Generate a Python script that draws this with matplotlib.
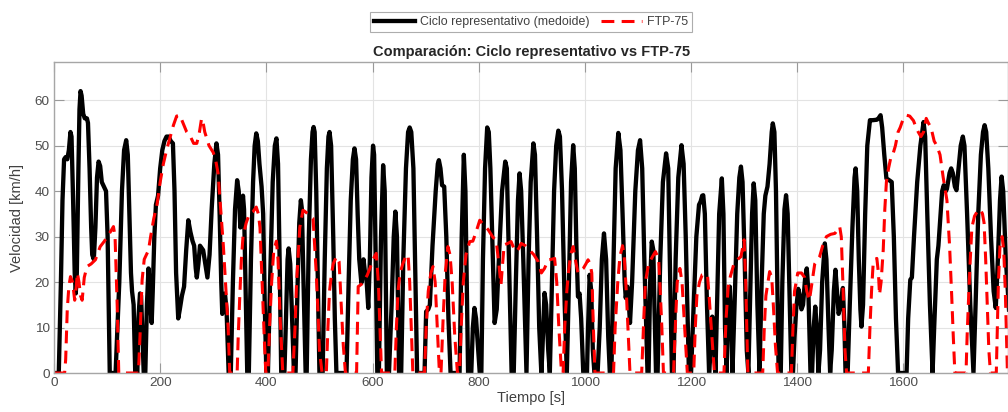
import matplotlib.pyplot as plt
import numpy as np

# ciclo representativo (medoide): tiempo [s], velocidad
med_t = [0, 9, 13, 16, 19, 22, 25, 28, 31, 33, 36, 39, 41, 43, 46, 48, 50, 52, 55, 58, 62, 64, 67, 70, 72, 75,
         78, 81, 84, 87, 90, 94, 98, 101, 105, 116, 123, 128, 132, 136, 139, 142, 145, 147, 150, 153, 157, 159,
         162, 164, 166, 169, 172, 175, 178, 180, 182, 184, 186, 189, 192, 196, 200, 204, 208, 212, 216, 220, 224,
         227, 230, 234, 237, 241, 245, 249, 253, 257, 261, 264, 267, 269, 272, 275, 278, 281, 285, 289, 293, 297,
         302, 306, 309, 312, 315, 317, 320, 322, 325, 329, 333, 337, 341, 345, 348, 351, 354, 356, 358, 364, 367,
         371, 375, 378, 381, 384, 387, 391, 394, 397, 400, 403, 407, 412, 416, 419, 422, 425, 428, 434, 437, 440,
         442, 445, 449, 452, 455, 459, 462, 465, 467, 470, 474, 476, 480, 484, 487, 489, 491, 494, 497, 500, 506,
         510, 514, 517, 519, 522, 526, 529, 532, 551, 555, 559, 563, 566, 569, 572, 575, 579, 583, 586, 589, 592,
         595, 598, 601, 603, 606, 609, 612, 616, 620, 623, 627, 631, 636, 640, 643, 646, 650, 654, 658, 663, 667,
         670, 673, 677, 681, 684, 698, 701, 705, 708, 713, 719, 723, 725, 728, 731, 735, 739, 743, 747, 764, 768,
         772, 775, 778, 780, 786, 789, 792, 795, 799, 802, 805, 808, 812, 816, 819, 822, 826, 830, 834, 838, 844,
         850, 853, 857, 862, 866, 870, 874, 877, 880, 884, 890, 894, 898, 903, 906, 910, 914, 918, 920, 924, 927,
         931, 934, 938, 942, 946, 950, 953, 957, 962, 966, 970, 974, 978, 981, 984, 987, 990, 993, 997, 1004,
         1006, 1009, 1012, 1015, 1018, 1024, 1028, 1032, 1036, 1040, 1044, 1047, 1050, 1054, 1058, 1063, 1067,
         1071, 1075, 1077, 1080, 1083, 1085, 1089, 1095, 1100, 1104, 1108, 1112, 1118, 1120, 1123, 1126, 1129,
         1131, 1134, 1137, 1142, 1147, 1153, 1157, 1160, 1164, 1167, 1171, 1176, 1182, 1186, 1190, 1196, 1200,
         1205, 1210, 1215, 1218, 1221, 1223, 1226, 1230, 1234, 1237, 1240, 1243, 1246, 1249, 1253, 1258, 1261,
         1264, 1267, 1270, 1273, 1276, 1278, 1282, 1287, 1291, 1294, 1297, 1301, 1305, 1308, 1311, 1315, 1318,
         1321, 1325, 1329, 1333, 1337, 1340, 1344, 1348, 1352, 1354, 1357, 1360, 1363, 1365, 1369, 1372, 1376,
         1379, 1382, 1386, 1389, 1392, 1395, 1398, 1402, 1405, 1408, 1411, 1415, 1418, 1421, 1425, 1428, 1431,
         1434, 1437, 1440, 1443, 1447, 1452, 1455, 1459, 1462, 1465, 1469, 1472, 1475, 1478, 1482, 1486, 1489,
         1491, 1495, 1499, 1504, 1508, 1510, 1513, 1516, 1519, 1521, 1524, 1528, 1532, 1537, 1542, 1550, 1553,
         1557, 1560, 1564, 1568, 1572, 1578, 1582, 1586, 1590, 1606, 1609, 1613, 1616, 1620, 1626, 1632, 1638,
         1641, 1645, 1650, 1655, 1658, 1663, 1666, 1670, 1673, 1676, 1680, 1682, 1687, 1690, 1693, 1697, 1700,
         1704, 1708, 1712, 1715, 1720, 1726, 1732, 1736, 1741, 1746, 1750, 1753, 1756, 1760, 1765, 1770, 1774,
         1778, 1782, 1785, 1788, 1793, 1797, 1800]
med_v = [0, 0, 20, 38, 47, 47.5, 47, 49, 53, 52, 38, 22, 17.5, 22, 45, 58, 62, 61, 57, 56, 56, 55, 45, 32, 26,
         25, 32, 43, 46.5, 45.5, 42, 41, 40, 30, 0, 0, 20, 40, 49, 51.2, 48, 35, 22, 18, 15, 0, 0, 12, 17.5, 17,
         10, 0, 0, 15, 23, 20, 14, 11, 18, 30, 37, 39, 45, 49, 51, 52, 52, 51, 50.5, 40, 22, 12, 14, 17, 19, 27,
         33.6, 31, 29, 28, 23, 21, 24, 28, 27.5, 27, 24, 21, 26, 36, 46, 50.5, 48, 35, 20, 13, 15, 17.5, 14, 0, 0,
         20, 36, 42.4, 40, 32, 35, 39, 36, 0, 0, 25, 42, 50, 52.7, 51, 46, 41, 35, 15, 0, 0, 20, 42, 50, 51.6, 46,
         25, 0, 0, 12, 25, 27.4, 24, 10, 0, 0, 20, 33, 38, 36, 20, 0, 0, 30, 47, 53, 54.1, 53, 40, 20, 0, 0, 25,
         45, 52, 53, 50, 30, 12, 0, 0, 20, 38, 47, 49.4, 47, 35, 25, 19.8, 25, 22, 20, 14.3, 25, 43, 50, 48, 25, 0,
         0, 30, 45.7, 40, 0, 0, 15, 30, 35.5, 30, 0, 0, 25, 45, 53, 54, 53, 45, 20, 0, 0, 13.5, 14, 15, 28, 40, 46,
         46.8, 45, 41.3, 41, 30, 12, 0, 0, 30, 48, 40, 15, 0, 0, 10, 14.3, 12, 5, 0, 0, 25, 45, 54, 53, 45, 28, 11,
         14, 25, 40, 46.5, 45, 25, 0, 0, 20, 38, 43.9, 40, 25, 0, 25, 42, 50.5, 48, 30, 10, 0, 5, 17.6, 15, 5, 0,
         20, 40, 50, 53.3, 52, 40, 15, 0, 20, 42, 50.1, 45, 28, 16.8, 17.5, 12, 0, 0, 10, 21.6, 18, 5, 0, 0, 10,
         25, 30.7, 25, 8, 0, 0, 25, 45, 52.8, 49, 35, 20, 16.5, 19, 15, 11, 20, 40, 49, 51.2, 45, 25, 0, 0, 20,
         28.9, 27, 15, 0, 0, 25, 42, 48.3, 45, 25, 0, 0, 25, 43, 50.1, 46, 30, 0, 0, 15, 30, 37, 37.7, 39, 39.1,
         35, 15, 0, 5, 12.4, 8, 0, 15, 35, 42.8, 35, 10, 0, 15, 19, 10, 0, 15, 35, 43, 45.4, 42, 25, 5, 0, 15, 35,
         41.7, 38, 15, 0, 20, 35, 39, 41, 46, 53, 54.9, 53, 40, 15, 0, 0, 20, 36, 39.1, 35, 15, 0, 0, 8, 14, 18.5,
         17, 14, 15, 21, 23, 18, 0, 0, 10, 14.6, 10, 0, 5, 20, 28.5, 25, 10, 0, 5, 18, 22.7, 18, 13, 15, 18.7, 10,
         0, 0, 15, 32, 43, 45, 40, 25, 14, 10.2, 15, 35, 50, 55.6, 55.6, 55.7, 56, 56.7, 54, 48, 42.8, 42.5, 42,
         30, 12, 0, 0, 12, 20.5, 21, 30, 42, 50, 55.2, 52, 35, 15, 0, 10, 25, 28, 35, 40, 41.3, 40, 40.5, 44, 45,
         44, 41, 40.2, 45, 50, 52, 50, 35, 15, 0, 15, 35, 48, 53, 54.5, 53, 45, 30, 18, 14.3, 25, 38, 43.2, 40,
         25, 17.5, 12]

# FTP-75: tiempo [s], velocidad
ftp_t = [0, 20, 22, 25, 28, 31, 35, 39, 42, 44, 47, 50, 53, 57, 62, 70, 78, 87, 95, 100, 106, 112, 115, 119, 122,
         159, 162, 166, 170, 174, 178, 182, 188, 194, 200, 206, 212, 219, 225, 231, 237, 243, 250, 257, 263, 269,
         274, 278, 281, 284, 292, 300, 305, 309, 314, 319, 324, 328, 331, 345, 347, 350, 353, 356, 362, 368, 375,
         381, 385, 388, 392, 396, 399, 403, 406, 410, 414, 419, 422, 426, 431, 450, 454, 457, 460, 463, 469, 473,
         478, 483, 488, 491, 494, 497, 500, 505, 513, 516, 519, 523, 526, 532, 537, 539, 541, 545, 549, 570, 573,
         579, 585, 590, 595, 601, 607, 611, 614, 617, 642, 645, 648, 652, 657, 662, 667, 670, 673, 676, 698, 701,
         705, 710, 714, 718, 722, 726, 729, 733, 737, 742, 746, 750, 755, 760, 764, 767, 771, 776, 783, 789, 795,
         802, 810, 818, 826, 833, 838, 842, 845, 848, 855, 861, 866, 871, 876, 880, 888, 896, 904, 912, 918, 924,
         931, 937, 943, 947, 951, 956, 959, 962, 966, 969, 973, 978, 982, 987, 992, 997, 1002, 1006, 1010, 1013,
         1016, 1019, 1054, 1057, 1062, 1066, 1071, 1074, 1078, 1082, 1085, 1107, 1111, 1114, 1120, 1127, 1133,
         1139, 1142, 1145, 1148, 1167, 1171, 1174, 1179, 1183, 1188, 1193, 1205, 1208, 1211, 1216, 1221, 1226,
         1231, 1234, 1237, 1241, 1244, 1262, 1266, 1270, 1274, 1281, 1288, 1294, 1300, 1303, 1307, 1335, 1338,
         1341, 1348, 1352, 1355, 1359, 1363, 1389, 1392, 1395, 1401, 1408, 1414, 1418, 1423, 1428, 1433, 1442,
         1448, 1455, 1463, 1471, 1476, 1480, 1483, 1486, 1490, 1493, 1534, 1537, 1540, 1543, 1547, 1550, 1553,
         1555, 1558, 1562, 1565, 1568, 1572, 1576, 1580, 1585, 1590, 1594, 1600, 1606, 1612, 1619, 1624, 1628,
         1633, 1638, 1643, 1647, 1652, 1658, 1663, 1669, 1675, 1682, 1687, 1691, 1694, 1697, 1718, 1720, 1723,
         1726, 1729, 1734, 1739, 1745, 1749, 1752, 1755, 1758, 1761, 1764, 1775, 1777, 1779, 1782, 1786, 1789,
         1792, 1796, 1800]
ftp_v = [0, 0, 3, 14, 19, 21.2, 20, 16, 19, 22, 20, 17, 16, 21, 23.4, 24, 24.9, 27.8, 29, 30, 31, 32.2, 30, 15,
         0, 0, 8, 20.5, 25, 26, 27, 30, 34, 37, 42, 46, 49, 52, 54.5, 56.5, 56.7, 55, 53, 52, 50.5, 50.5, 53, 56,
         55, 53, 50, 48.5, 46.5, 44, 36, 28, 18, 10, 0, 0, 8, 17, 25, 30, 33, 35, 35.5, 36.5, 35, 32, 20, 8, 0, 0,
         10, 20, 27, 29, 25, 12, 0, 0, 10, 20, 26, 32, 35.8, 35.5, 35, 34.5, 34, 28, 22, 14, 5, 0, 0, 10, 18, 22,
         24, 25.6, 24.5, 20, 15, 6, 0, 0, 19, 19.5, 20.5, 21.5, 23, 25, 26.3, 20, 10, 0, 0, 10, 18, 22, 24, 25.5,
         26, 20, 10, 0, 0, 10, 18, 22, 23.4, 20, 10, 0, 0, 12, 22, 27.8, 26, 20, 8, 0, 0, 10, 20, 26, 28.9, 29,
         31, 33.6, 32.5, 31.5, 30, 29, 24, 19.4, 24, 28.2, 28.5, 28.9, 27.5, 26.7, 27.5, 28.5, 28, 27, 26, 24.5,
         22, 23, 24.9, 25, 25.2, 20, 10, 0, 0, 10, 18, 22, 26, 27.8, 25, 22, 22.5, 23, 24, 24.9, 24, 22, 10, 0, 0,
         10, 20, 25.6, 28, 26, 18, 8, 0, 0, 12, 20, 24, 25.5, 26.7, 25, 18, 10, 0, 0, 12, 20, 23, 20, 10, 0, 0,
         10, 17, 20, 21.6, 21.8, 21.5, 17, 12, 5, 0, 0, 12, 19, 21.2, 24.1, 25, 25.6, 29.3, 20, 0, 0, 10, 17,
         22.3, 21, 15, 6, 0, 0, 10, 18, 22, 22, 21, 18, 16, 20, 24, 25.5, 28, 30, 30.5, 30.7, 31.5, 32.2, 30, 20,
         5, 0, 0, 10, 18, 24, 25, 25.2, 22, 17.2, 20, 27, 36, 42, 45, 47.2, 48, 50, 53, 54, 56, 56.7, 56.5, 55.5,
         54, 53, 52, 53, 56, 55, 54, 51, 50, 48, 43, 38, 28, 17, 8, 0, 0, 8, 17, 25, 32, 34.5, 35.5, 36, 35, 33,
         25, 15, 5, 0, 0, 10, 20, 28, 30, 27, 18, 0, 0]

xticks = [0, 200, 400, 600, 800, 1000, 1200, 1400, 1600]
yticks = [0, 10, 20, 30, 40, 50, 60]

plt.rcParams['font.family'] = ['Liberation Sans', 'DejaVu Sans']

fig = plt.figure(figsize=(10.08, 4.12), dpi=100)
ax = fig.add_axes([54 / 1008, 39 / 412, (1008.5 - 54) / 1008, 311 / 412])

ax.plot(med_t, med_v, color='black', lw=3.1, solid_joinstyle='round', label='Ciclo representativo (medoide)')
ax.plot(ftp_t, ftp_v, color='#ff0000', lw=2.2, dashes=(4.2, 2.4), label='FTP-75')

ax.set_xlim(0, 1798)
ax.set_ylim(0, 68.4)
ax.set_xticks(xticks)
ax.set_yticks(yticks)
ax.grid(True, color='#e3e3e3', lw=0.8)
ax.set_axisbelow(True)
for s in ax.spines.values():
    s.set_color('#a6a6a6')
    s.set_linewidth(1.0)
ax.tick_params(direction='in', length=7, width=0.8, color='#999999', labelcolor='#4d4d4d',
               labelsize=9.7, top=True, right=True, pad=3)

ax.set_xlabel('Tiempo [s]', fontsize=10.5, color='#404040', labelpad=1)
ax.set_ylabel('Velocidad [km/h]', fontsize=10.5, color='#404040', labelpad=8)
ax.set_title('Comparación: Ciclo representativo vs FTP-75', fontsize=10.5, fontweight='bold',
             color='#262626', pad=4)

leg = fig.legend(loc='center', bbox_to_anchor=(531 / 1008, 1 - 22 / 412), ncol=2, fontsize=8.9,
                 frameon=True, fancybox=False, handlelength=3.3, columnspacing=1.0, handletextpad=0.4,
                 borderpad=0.3, borderaxespad=0)
leg.get_frame().set_edgecolor('#999999')
leg.get_frame().set_linewidth(0.8)
for txt in leg.get_texts():
    txt.set_color('#404040')

fig.savefig('out.png', dpi=100)
